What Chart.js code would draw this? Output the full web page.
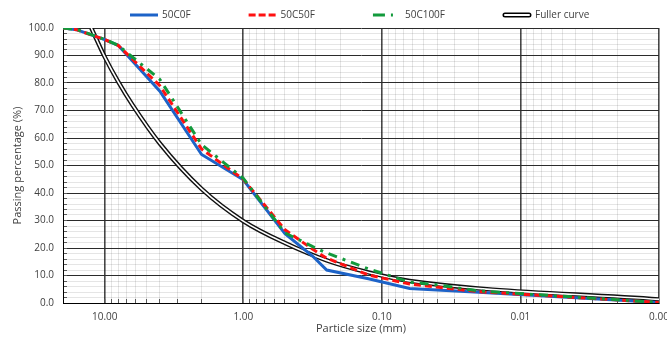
<!DOCTYPE html>
<html>
<head>
<meta charset="utf-8">
<script src="https://cdn.jsdelivr.net/npm/chart.js@4.4.1/dist/chart.umd.min.js"></script>
<style>
  html, body { margin: 0; padding: 0; background: #fff; }
  #wrap { width: 667px; height: 337px; }
</style>
</head>
<body>
<div id="wrap"><canvas id="gradingChart"></canvas></div>
<script>
// sieve sizes (mm) and passing percentages
const sizes = [20, 16, 12.5, 10, 8, 4, 2, 1, 0.5, 0.315, 0.25, 0.125, 0.063, 0.04, 0.02, 0.001];
const pass50C0F = [100, 99.4, 97.5, 95.8, 93.7, 77.0, 54.0, 44.8, 25.2, 17.0, 12.0, 8.8, 5.3, 4.7, 3.9, 0.2];
const pass50C50F = [100, 99.4, 97.5, 95.8, 93.7, 79.0, 56.0, 45.0, 26.6, 19.5, 16.3, 10.2, 6.9, 5.8, 4.1, 0.2];
const pass50C100F = [100, 99.5, 97.6, 95.9, 93.7, 81.3, 57.6, 45.3, 25.5, 20.5, 18.2, 12.4, 7.6, 6.6, 4.4, 0.2];

const fullerSizes = [12.5, 10, 8, 6.3, 4, 2, 1, 0.5, 0.25, 0.125, 0.063, 0.001];
const fullerPass = [100, 89.5, 80.5, 72.0, 58.0, 41.5, 29.8, 21.8, 15.5, 11.1, 8.0, 1.3];

const decades = [0.001, 0.01, 0.1, 1, 10];

const toPoints = (xs, ys) => xs.map((x, i) => ({ x: x, y: ys[i] }));
const isDecade = (v) => Math.abs(Math.log10(v) - Math.round(Math.log10(v))) < 1e-9;

let xTicks = [];
decades.forEach(d => {
  for (let m = 1; m <= 9; m++) {
    if (d * m <= 20) xTicks.push(d * m);
  }
});
xTicks.push(20);

const tickFont = { family: '"Open Sans", sans-serif', size: 10 };
const titleFont = { family: '"Open Sans", sans-serif', size: 11 };
const textColor = '#404040';
const minorGrid = 'rgba(0,0,0,0.1)';

// legend drawn as a single row above the plot, Excel style
const lineLegend = {
  id: 'lineLegend',
  afterDraw(chart) {
    const ctx = chart.ctx;
    const y = 15;
    let x = chart.chartArea.left + 67;
    ctx.save();
    ctx.font = '10px "Open Sans", sans-serif';
    ctx.textBaseline = 'middle';
    chart.data.datasets.forEach(ds => {
      if (ds.inner) return;
      const len = 28;
      if (ds.fuller) {
        ctx.lineCap = 'round';
        ctx.strokeStyle = '#000';
        ctx.lineWidth = 5;
        ctx.beginPath(); ctx.moveTo(x + 2, y); ctx.lineTo(x + len - 2, y); ctx.stroke();
        ctx.strokeStyle = '#fff';
        ctx.lineWidth = 2;
        ctx.beginPath(); ctx.moveTo(x + 2, y); ctx.lineTo(x + len - 2, y); ctx.stroke();
      } else {
        ctx.lineCap = 'butt';
        ctx.strokeStyle = ds.borderColor;
        ctx.lineWidth = 3;
        ctx.setLineDash(ds.legendDash || []);
        ctx.beginPath(); ctx.moveTo(x, y); ctx.lineTo(x + len, y); ctx.stroke();
        ctx.setLineDash([]);
      }
      ctx.fillStyle = textColor;
      ctx.fillText(ds.label, x + len + 4, y + 0.5);
      x += len + 4 + ctx.measureText(ds.label).width + 58;
    });
    ctx.restore();
  }
};

let ctx = document.getElementById('gradingChart').getContext('2d');

let gradingChart = new Chart(ctx, {
  type: 'line',
  data: {
    datasets: [{
      label: '50C0F',
      data: toPoints(sizes, pass50C0F),
      borderColor: '#1d63c8',
      borderWidth: 3,
      order: 2
    }, {
      label: '50C50F',
      data: toPoints(sizes, pass50C50F),
      borderColor: '#ff1010',
      borderWidth: 3,
      borderDash: [7, 4],
      legendDash: [7, 3],
      order: 1
    }, {
      label: '50C100F',
      data: toPoints(sizes, pass50C100F),
      borderColor: '#129a3c',
      borderWidth: 3,
      borderDash: [9, 6, 3, 6],
      legendDash: [12, 6, 2, 20],
      order: 0
    }, {
      label: 'Fuller curve',
      fuller: true,
      data: toPoints(fullerSizes, fullerPass),
      borderColor: '#111',
      borderWidth: 4.4,
      cubicInterpolationMode: 'monotone',
      order: 4
    }, {
      label: 'Fuller curve',
      inner: true,
      data: toPoints(fullerSizes, fullerPass),
      borderColor: '#fff',
      borderWidth: 1.6,
      cubicInterpolationMode: 'monotone',
      order: 3
    }]
  },
  options: {
    responsive: true,
    maintainAspectRatio: false,
    animation: false,
    elements: {
      point: { radius: 0 },
      line: { fill: false, tension: 0 }
    },
    layout: {
      padding: { left: 0, right: 8, top: 28, bottom: 0 }
    },
    plugins: {
      legend: { display: false },
      tooltip: { enabled: false }
    },
    scales: {
      x: {
        type: 'logarithmic',
        reverse: true,
        min: 0.001,
        max: 20,
        afterBuildTicks: (scale) => {
          scale.ticks = xTicks.map(v => ({ value: v }));
        },
        afterFit: (scale) => { scale.height = 34; },
        ticks: {
          autoSkip: false,
          maxRotation: 0,
          padding: 12,
          color: textColor,
          font: tickFont,
          callback: (value) => isDecade(value) ? value.toFixed(2) : ''
        },
        grid: {
          // short inside tick marks on the axis line
          tickLength: -4,
          tickColor: '#595959',
          tickWidth: 1,
          color: (c) => c.tick && isDecade(c.tick.value) ? '#474747' : minorGrid,
          lineWidth: (c) => c.tick && isDecade(c.tick.value) ? 1.6 : 1
        },
        border: { color: '#000', width: 1 },
        title: {
          display: true,
          text: 'Particle size (mm)',
          color: textColor,
          font: titleFont,
          padding: { top: 0, bottom: 2 }
        }
      },
      y: {
        min: 0,
        max: 100,
        afterFit: (scale) => { scale.width = 63; },
        ticks: {
          stepSize: 2,
          autoSkip: false,
          padding: 13,
          color: textColor,
          font: tickFont,
          callback: (value) => Math.round(value) % 10 === 0 ? value.toFixed(1) : ''
        },
        grid: {
          z: -1,
          tickLength: -4,
          tickColor: '#595959',
          tickWidth: 1,
          color: (c) => c.tick && Math.round(c.tick.value) % 10 === 0 ? '#2b2b2b' : minorGrid,
          lineWidth: 1
        },
        border: { color: '#000', width: 1 },
        title: {
          display: true,
          text: 'Passing percentage (%)',
          color: textColor,
          font: titleFont,
          padding: { top: 11, bottom: 0 }
        }
      }
    }
  },
  plugins: [lineLegend]
});
</script>
</body>
</html>
